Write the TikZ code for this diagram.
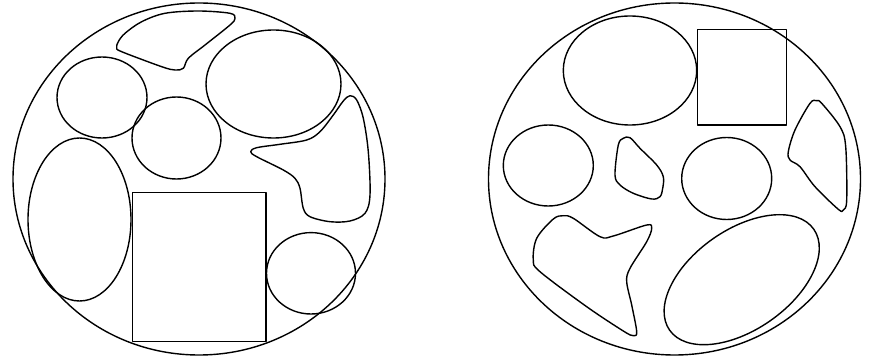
\documentclass[tikz,border=0pt]{standalone}
\begin{document}
\begin{tikzpicture}[x=1pt,y=-1pt,line width=1.4pt,
  outl/.style={draw=black,line join=round},
  blob/.style={smooth cycle,tension=0.55}]
\useasboundingbox (0,0) rectangle (871,358);
% left picture
\draw[outl] (199,179) ellipse [x radius=186,y radius=176];
\draw[outl] (102,97.5) ellipse [x radius=45,y radius=40.5];
\draw[outl] (176.5,138) ellipse [x radius=44.5,y radius=41];
\draw[outl] (273.5,84) ellipse [x radius=67.5,y radius=54];
\draw[outl] (79.5,219.5) ellipse [x radius=51.5,y radius=81.5];
\draw[outl] (132.3,192.3) rectangle (266,341.7);
\draw[outl] (311,273.3) ellipse [x radius=44.5,y radius=40.7];
\draw[outl] plot[blob] coordinates {(116.7,47.7) (118.3,41.7) (125,33.3) (141.7,21.7) (165,13.3) (198.3,11) (230,13.3) (235,18.3) (230,25) (205,45) (188.3,58.3) (183.3,68.3) (175,70) (161.7,66.7) (121.7,51.7)};
\draw[outl] plot[blob] coordinates {(350,95.7) (356.7,100) (363.3,118.3) (368.3,151.7) (370,195) (365,213.3) (350,221) (330,221.7) (310,216.7) (303.3,208.3) (300,188.3) (295,178.3) (283.3,170) (256.7,156.7) (250.7,151.7) (256.7,147.7) (280,144.3) (306.7,140) (320,131.7) (333.3,115) (343.3,101)};
% right picture
\draw[outl] (674.5,179) ellipse [x radius=186,y radius=176];
\draw[outl] (630,70.5) ellipse [x radius=66.7,y radius=54.5];
\draw[outl] (697.3,29.3) rectangle (786.7,125);
\draw[outl] (548.3,165.5) ellipse [x radius=45,y radius=40.5];
\draw[outl] (726.7,178.5) ellipse [x radius=45,y radius=41];
\draw[outl] plot[blob] coordinates {(630,137.7) (623.3,138.3) (618.3,145) (615,175) (620,185) (633.3,193.3) (651.7,199) (660,196.7) (662.7,188.3) (663.3,176.7) (656.7,165) (640,148.3)};
\draw[outl] plot[blob] coordinates {(816.7,100.7) (810,103.3) (795,130) (788.3,151.7) (790,160) (800,166.7) (815,186.7) (838.3,209.3) (843.3,210) (846.7,200) (845.7,146.7) (840,126.7) (821.7,103.3)};
\draw[outl] plot[blob] coordinates {(563.3,215.7) (573.3,218.3) (600,236.7) (613.3,236) (646.7,225) (651.7,228.3) (646.7,241.7) (630,268.3) (626.7,281.7) (631.7,305) (636.7,331.7) (633.3,335.7) (623.3,331) (586.7,306.7) (540,271.7) (533.3,260) (536.7,238.3) (553.3,219)};
\draw[outl,rotate around={35:(741.7,279.7)}] (741.7,279.7) ellipse [x radius=88,y radius=50];
\end{tikzpicture}
\end{document}
